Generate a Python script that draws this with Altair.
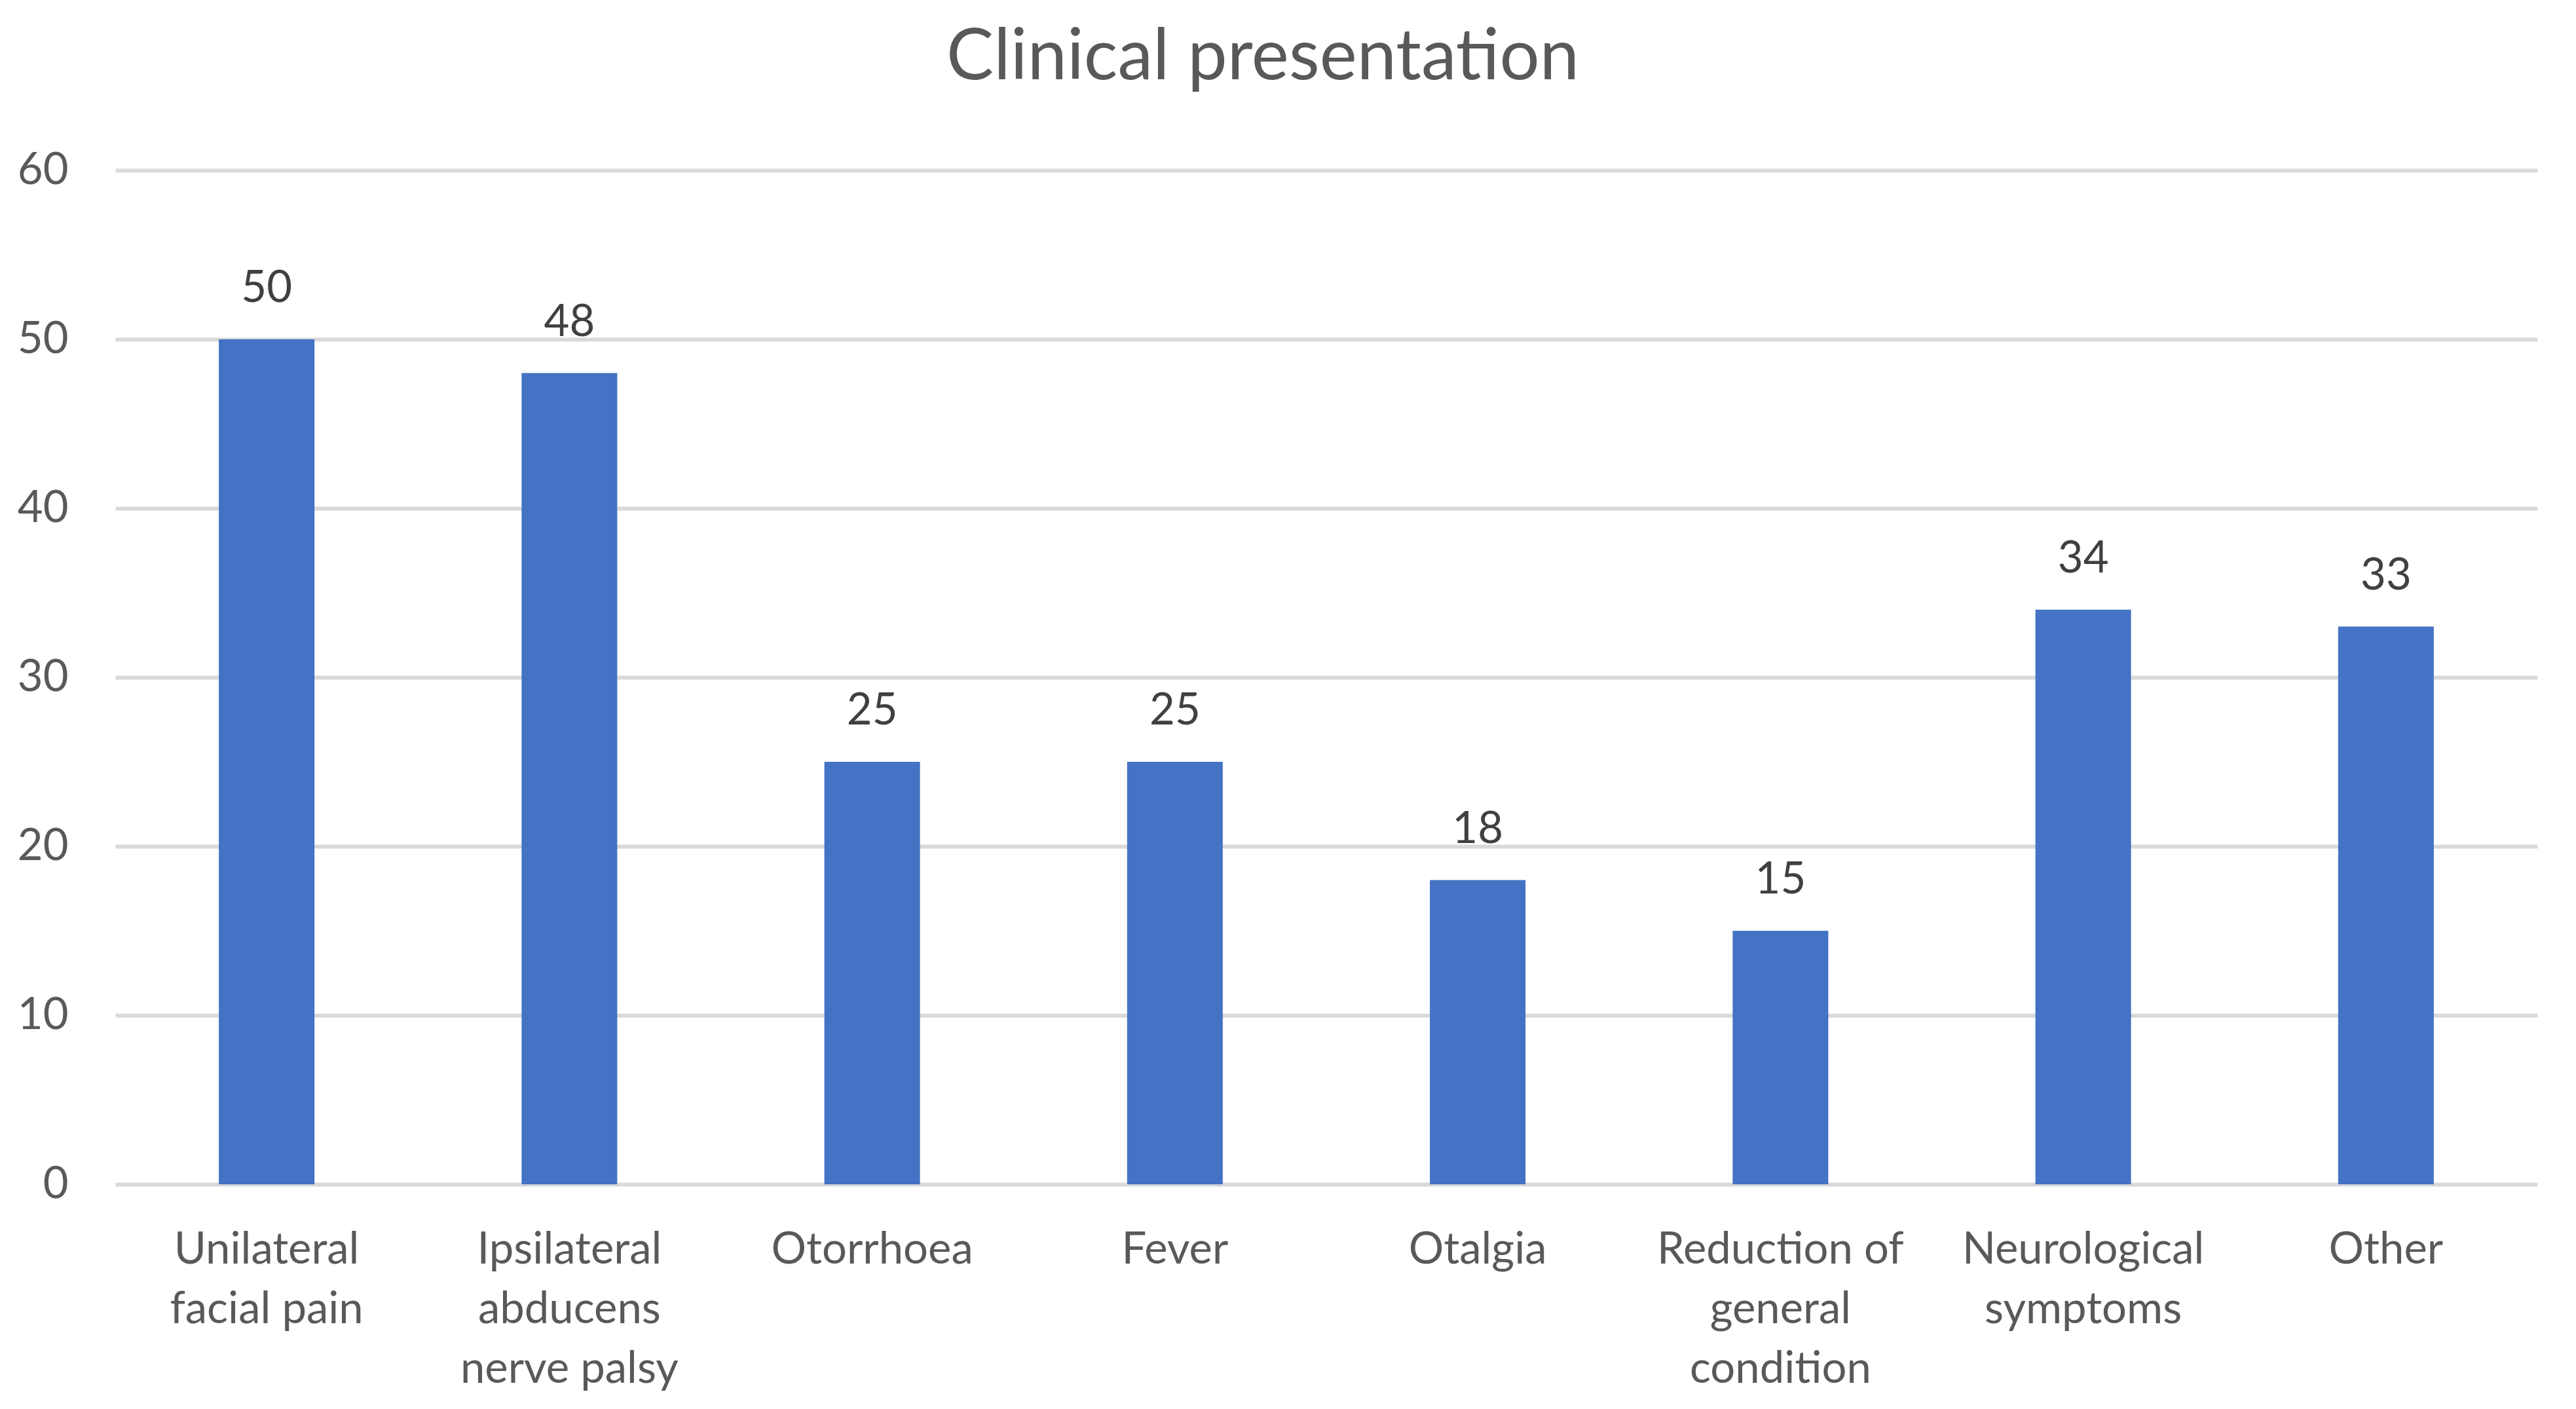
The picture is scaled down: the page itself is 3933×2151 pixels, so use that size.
import altair as alt
import pandas as pd

categories = [
    "Unilateral\nfacial pain",
    "Ipsilateral\nabducens\nnerve palsy",
    "Otorrhoea",
    "Fever",
    "Otalgia",
    "Reduction of\ngeneral\ncondition",
    "Neurological\nsymptoms",
    "Other",
]
values = [50, 48, 25, 25, 18, 15, 34, 33]

df = pd.DataFrame({"category": categories, "value": values})

FONT = "Lato"

x = alt.X(
    "category:N",
    sort=categories,
    title=None,
    scale=alt.Scale(paddingInner=0, paddingOuter=0),
    axis=alt.Axis(
        labelExpr="split(datum.label, '\\n')",
        labelAngle=0,
        labelFont=FONT,
        labelFontSize=67,
        labelColor="#595959",
        labelPadding=67,
        labelLineHeight=91,
        labelBaseline="top",
        labelLimit=0,
        ticks=False,
        domain=False,
        grid=False,
    ),
)

y = alt.Y(
    "value:Q",
    title=None,
    scale=alt.Scale(domain=[0, 60], nice=False),
    axis=alt.Axis(
        values=[0, 10, 20, 30, 40, 50, 60],
        labelFont=FONT,
        labelFontSize=67,
        labelColor="#595959",
        labelPadding=72,
        ticks=False,
        domain=False,
        grid=True,
        gridColor="#d9d9d9",
        gridWidth=6,
    ),
)

bars = alt.Chart(df).mark_bar(size=146, color="#4472C4").encode(x=x, y=y)

labels = alt.Chart(df).mark_text(
    font=FONT, fontSize=67, color="#404040", baseline="alphabetic", dy=-57
).encode(x=x, y=y, text="value:Q")

chart = (
    alt.layer(bars, labels)
    .properties(
        width=3698,
        height=1548,
        padding={"left": 168, "top": 252, "right": 51, "bottom": 335},
        autosize=alt.AutoSizeParams(type="none"),
        background="white",
        title=alt.TitleParams(
            "Clinical presentation",
            font=FONT,
            fontSize=108,
            fontWeight="normal",
            color="#595959",
            anchor="middle",
            baseline="alphabetic",
            offset=-3,
            dx=-97,
        ),
    )
    .configure_view(stroke=None)
)

chart.save("out.html", embed_options={"renderer": "svg", "actions": False})
